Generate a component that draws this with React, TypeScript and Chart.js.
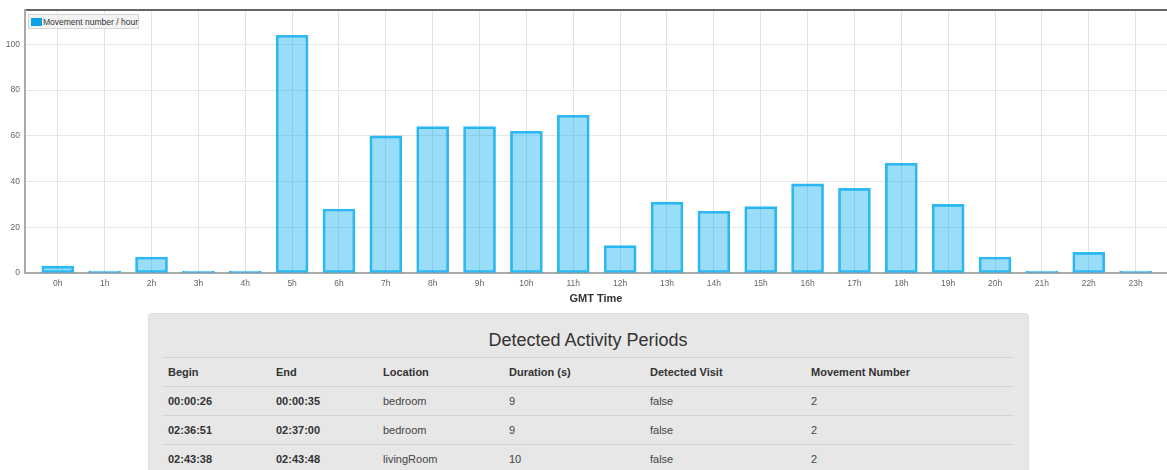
import React, { useEffect, useRef } from "react";
import { Chart, registerables } from "chart.js";

Chart.register(...registerables);

const HOUR_LABELS = ["0h","1h","2h","3h","4h","5h","6h","7h","8h","9h","10h","11h","12h","13h","14h","15h","16h","17h","18h","19h","20h","21h","22h","23h"];
const MOVEMENTS_PER_HOUR = [3,0,7,0,0,104,28,60,64,64,62,69,12,31,27,29,39,37,48,30,7,0,9,0];
const SERIES_LABEL = "Movement number / hour";
const X_TITLE = "GMT Time";
const Y_MAX = 115;
const Y_STEP = 20;

const TABLE_TITLE = "Detected Activity Periods";
const TABLE_COLUMNS = ["Begin","End","Location","Duration (s)","Detected Visit","Movement Number"];
const BEGIN_TIMES = ["00:00:26","02:36:51","02:43:38"];
const END_TIMES = ["00:00:35","02:37:00","02:43:48"];
const LOCATIONS = ["bedroom","bedroom","livingRoom"];
const DURATIONS = [9,9,10];
const DETECTED_VISITS = ["false","false","false"];
const MOVEMENT_NUMBERS = [2,2,2];

const FONT = "'Liberation Sans', Arial, Helvetica, sans-serif";
const COL_WIDTHS = [108,107,126,141,161,209];

export default function App() {
  const canvasRef = useRef<HTMLCanvasElement | null>(null);

  useEffect(() => {
    if (!canvasRef.current) return;
    const chart = new Chart(canvasRef.current, {
      type: "bar",
      data: {
        datasets: [
          {
            label: SERIES_LABEL,
            data: MOVEMENTS_PER_HOUR.map((v, i) => ({ x: i, y: v })),
            backgroundColor: "rgba(0,170,238,0.4)",
            borderColor: "rgba(10,172,240,0.85)",
            borderWidth: 2,
            borderSkipped: false,
            barThickness: 32,
            minBarLength: 2,
          },
        ],
      },
      options: {
        responsive: false,
        animation: false,
        layout: { padding: { top: 9, right: 0, left: 0, bottom: 0 } },
        plugins: { legend: { display: false }, tooltip: { enabled: false } },
        scales: {
          x: {
            type: "linear",
            position: "bottom",
            offset: false,
            min: -0.7,
            max: 23.67,
            afterFit: (s: any) => { s.height = 33; },
            ticks: {
              stepSize: 1,
              includeBounds: false,
              autoSkip: false,
              maxRotation: 0,
              padding: 6,
              color: "#666",
              font: { family: FONT, size: 8.5 },
              callback: (v: any) => (Number.isInteger(v) && HOUR_LABELS[v] !== undefined ? HOUR_LABELS[v] : ""),
            },
            grid: { color: "#e2e2e2", lineWidth: 1, drawTicks: false, offset: false },
            border: { color: "#aaaaaa", width: 2 },
            title: {
              display: true,
              text: X_TITLE,
              color: "#333",
              font: { family: FONT, size: 11, weight: "bold" },
              padding: { top: 4, bottom: 0 },
            },
          },
          x2: {
            type: "linear",
            position: "top",
            offset: false,
            afterFit: (s: any) => { s.height = 0; },
            ticks: { display: false },
            grid: { display: false, drawTicks: false },
            border: { display: true, color: "#666666", width: 2 },
          },
          y: {
            min: 0,
            max: Y_MAX,
            afterFit: (s: any) => { s.width = 25; },
            ticks: {
              stepSize: Y_STEP,
              includeBounds: false,
              padding: 5,
              color: "#666",
              font: { family: FONT, size: 8.5 },
            },
            grid: { color: "#e6e6e6", lineWidth: 1, drawTicks: false },
            border: { color: "#aaaaaa", width: 2 },
          },
        },
      },
    });
    return () => chart.destroy();
  }, []);

  const rows = BEGIN_TIMES.map((b, i) => [b, END_TIMES[i], LOCATIONS[i], String(DURATIONS[i]), DETECTED_VISITS[i], String(MOVEMENT_NUMBERS[i])]);

  const cellBase: React.CSSProperties = {
    height: 29,
    padding: "0 6px",
    borderTop: "1px solid #d4d4d4",
    textAlign: "left",
    verticalAlign: "middle",
    fontSize: 11,
    boxSizing: "border-box",
  };

  return (
    <div style={{ position: "absolute", left: 0, top: 0, width: 1167, height: 470, overflow: "hidden", fontFamily: FONT, background: "#fff" }}>
      <canvas ref={canvasRef} width={1167} height={306} style={{ display: "block" }} />
      <div style={{ position: "absolute", left: 28, top: 14, width: 111, height: 15, boxSizing: "border-box", background: "#f3f3f3", border: "1px solid #d6d6d6", display: "flex", alignItems: "center", paddingLeft: 2 }}>
        <div style={{ width: 11, height: 8, background: "#0ba2e6", flex: "none" }} />
        <span style={{ fontSize: 8.5, color: "#333", whiteSpace: "nowrap", marginLeft: 1 }}>{SERIES_LABEL}</span>
      </div>
      <div style={{ position: "absolute", left: 148, top: 313, width: 881, height: 200, boxSizing: "border-box", background: "#e7e7e7", border: "1px solid #dedede", borderRadius: 4, paddingLeft: 13, paddingRight: 14 }}>
        <div style={{ height: 43, boxSizing: "border-box", paddingTop: 16, textAlign: "center", fontSize: 18, lineHeight: "20px", color: "#333" }}>{TABLE_TITLE}</div>
        <table style={{ borderCollapse: "collapse", tableLayout: "fixed", width: 852 }}>
          <colgroup>
            {COL_WIDTHS.map((w, i) => <col key={i} style={{ width: w }} />)}
          </colgroup>
          <thead>
            <tr>
              {TABLE_COLUMNS.map((c) => (
                <th key={c} style={{ ...cellBase, fontWeight: "bold", color: "#333" }}>{c}</th>
              ))}
            </tr>
          </thead>
          <tbody>
            {rows.map((r, ri) => (
              <tr key={ri}>
                {r.map((c, ci) => (
                  <td key={ci} style={{ ...cellBase, fontWeight: ci < 2 ? "bold" : "normal", color: ci < 2 ? "#333" : "#444" }}>{c}</td>
                ))}
              </tr>
            ))}
          </tbody>
        </table>
      </div>
    </div>
  );
}
